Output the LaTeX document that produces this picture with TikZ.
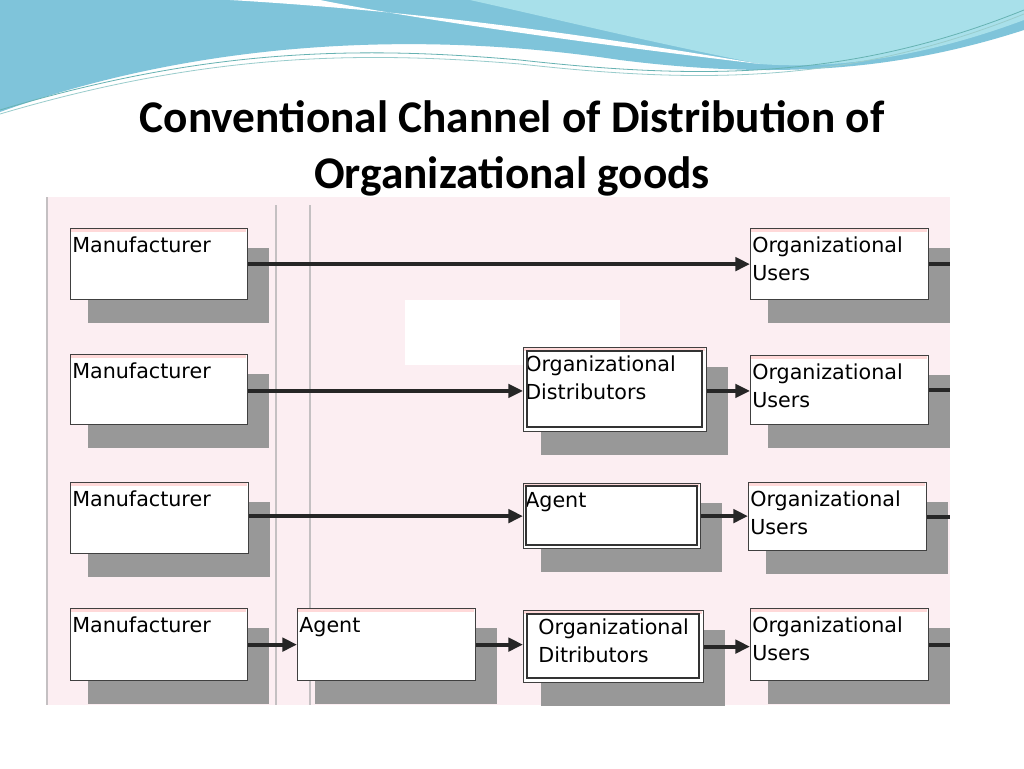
\documentclass[tikz,border=0pt]{standalone}
\usepackage{fontspec}
\setmainfont{DejaVu Sans}
\newfontfamily\titlefont{Carlito}
\usetikzlibrary{arrows.meta}
\definecolor{pinkbg}{HTML}{FCEEF2}
\definecolor{shad}{HTML}{989898}
\definecolor{bannerA}{HTML}{7FC4DA}
\definecolor{bannerB}{HTML}{A8E0EA}
\definecolor{vline}{HTML}{C4C0C2}
\tikzset{
  boxsh/.style={fill=shad},
  boxw/.style={draw=black!75, fill=white, line width=0.9pt},
  boxtxt/.style={anchor=north west, inner sep=1.5pt, font=\fontsize{15.5}{21}\selectfont, align=left},
  conn/.style={line width=3pt, black!85, -{Triangle[length=11pt,width=10pt]}},
  stub/.style={line width=3pt, black!85}
}
% \mkbox{name}{x1}{y1}{x2}{y2}{text}
\newcommand\mkbox[6]{%
  \fill[boxsh] (#2+18,#3+20) rectangle ({min(#4+22,950)},#5+24);
  \node[boxw, anchor=north west, minimum width={(#4-#2)*0.75pt}, minimum height={(#5-#3)*0.75pt}, inner sep=0pt] (#1) at (#2,#3) {};
  \fill[pink!60] (#2+1,#3+1) rectangle (#4-1,#3+4);
  \node[boxtxt] at (#2,#3+7) {#6};}
\begin{document}
\begin{tikzpicture}[x=0.75pt,y=-0.75pt]
\useasboundingbox (0,0) rectangle (1024,768);
\fill[white] (0,0) rectangle (1024,768);
% banner
\fill[bannerA] (0,0) -- (1024,0) -- (1024,30) .. controls (900,70) and (780,80) .. (620,60) .. controls (420,30) and (200,40) .. (0,112) -- cycle;
\fill[bannerB] (470,0) -- (1024,0) -- (1024,20) .. controls (930,55) and (840,70) .. (760,64) .. controls (640,40) and (560,20) .. (470,0) -- cycle;
\fill[white] (230,0) .. controls (400,10) and (560,30) .. (760,64) .. controls (600,45) and (420,20) .. (320,0) -- cycle;
\draw[teal!60, line width=0.6pt] (0,110) .. controls (200,50) and (350,45) .. (520,60) .. controls (700,80) and (850,80) .. (1024,10);
\draw[teal!40, line width=0.6pt] (0,114) .. controls (200,55) and (350,50) .. (520,64) .. controls (700,84) and (850,84) .. (1024,14);
% title
\node[font=\titlefont\bfseries\fontsize{34}{42}\selectfont, align=center] (title) at (512,148) {Conventional Channel of Distribution of\\Organizational goods};
% panel
\fill[pinkbg] (47,197) rectangle (950,705);
\fill[white] (405,300) rectangle (620,365);
\draw[vline, line width=1.2pt] (47,197) -- (47,705);
\draw[vline, line width=1.2pt] (276,205) -- (276,705);
\draw[vline, line width=1.2pt] (310,205) -- (310,705);
% row 1
\mkbox{m1}{70}{228}{247}{299}{Manufacturer}
\mkbox{u1}{750}{228}{928}{299}{Organizational\\Users}
% row 2
\mkbox{m2}{70}{354}{247}{424}{Manufacturer}
\mkbox{d2}{523}{347}{706}{431}{Organizational\\Distributors}
\draw[black!80,line width=0.9pt] (527,351) rectangle (702,427);
\mkbox{u2}{750}{355}{928}{424}{Organizational\\Users}
% row 3
\mkbox{m3}{70}{482}{248}{553}{Manufacturer}
\mkbox{a3}{523}{483}{700}{548}{Agent}
\draw[black!80,line width=0.9pt] (526,486) rectangle (697,545);
\mkbox{u3}{748}{482}{926}{550}{Organizational\\Users}
% row 4
\mkbox{m4}{70}{608}{247}{680}{Manufacturer}
\mkbox{a4}{297}{608}{475}{680}{Agent}
\mkbox{d4}{523}{610}{703}{682}{\ \ Organizational\\\ \ Ditributors}
\draw[black!80,line width=0.9pt] (527,614) rectangle (699,678);
\mkbox{u4}{750}{608}{928}{680}{Organizational\\Users}
% connectors (horizontal)
\draw[conn] (m1.east) -- (m1.east -| u1.west);
\draw[conn] ([yshift=-1pt]d2.west -| m2.east) -- ([yshift=-1pt]d2.west);
\draw[conn] ([yshift=-1pt]d2.east) -- ([yshift=-1pt]d2.east -| u2.west);
\draw[conn] (a3.west -| m3.east) -- (a3.west);
\draw[conn] (a3.east) -- (a3.east -| u3.west);
\draw[conn] (m4.east) -- (m4.east -| a4.west);
\draw[conn] (a4.east) -- (a4.east -| d4.west);
\draw[conn] (d4.east) -- (d4.east -| u4.west);
\coordinate (e1) at (950,263); \coordinate (e2) at (950,390);
\coordinate (e3) at (950,518); \coordinate (e4) at (950,645);
\draw[stub] (u1.east) -- (u1.east -| e1);
\draw[stub] (u2.east) -- (u2.east -| e2);
\draw[stub] (u3.east) -- (u3.east -| e3);
\draw[stub] (u4.east) -- (u4.east -| e4);
\end{tikzpicture}
\end{document}
